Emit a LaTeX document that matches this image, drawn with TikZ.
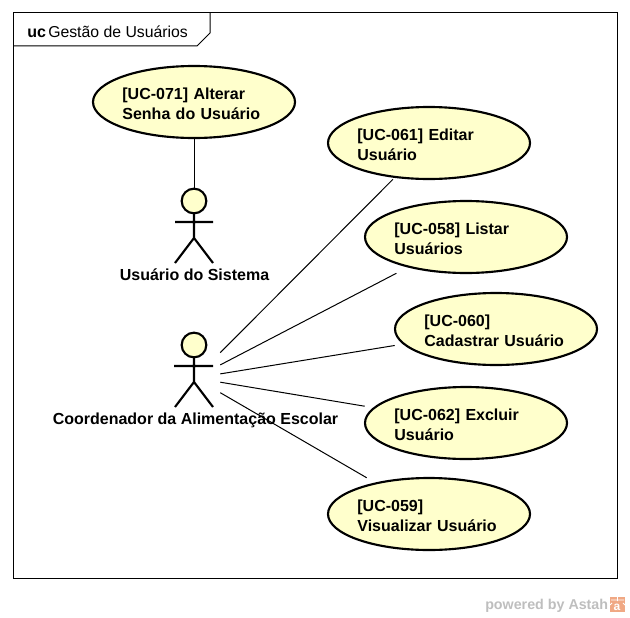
\documentclass[tikz,border=0pt]{standalone}
\usepackage{fontspec}
\setmainfont{Liberation Sans}
\definecolor{ucfill}{HTML}{FFFFCC}
\definecolor{wmgray}{HTML}{BEBEBE}
\definecolor{wmorange}{HTML}{F0A884}
\newcommand{\ucstrut}{\rule{0pt}{11.3pt}}
\tikzset{
  x=0.75pt,y=-0.75pt,
  ucshape/.style={draw=black,fill=ucfill,line width=1.6pt},
  ucbox/.style={rectangle,inner sep=0pt,minimum width=151.5pt,minimum height=54pt,text width=107.4pt,align=left,font=\fontsize{12}{15}\selectfont\bfseries},
  framepath/.style={draw=black,line width=0.75pt},
  conn/.style={draw=black,line width=0.75pt},
  actorline/.style={draw=black,line width=1.6pt},
  headnode/.style={circle,draw=black,fill=ucfill,line width=1.6pt,inner sep=0pt,minimum size=18.5pt},
  actorbox/.style={rectangle,inner sep=0pt,minimum width=37.5pt,minimum height=60pt},
  actorlabel/.style={inner sep=0pt,font=\fontsize{12}{15}\selectfont\bfseries},
}
\begin{document}
\begin{tikzpicture}
\useasboundingbox (0,0) rectangle (630,617);
% frame
\draw[framepath] (13,13) rectangle (617,578);
\draw[framepath] (13,46) -- (197,46) -- (210,33) -- (210,13);
\node[anchor=base west,inner sep=0pt,font=\fontsize{12}{15}\selectfont\bfseries] (ucword) at (27,37.5) {uc};
\node[anchor=base west,inner sep=0pt,font=\fontsize{11.85}{15}\selectfont] (frametitle) at (48,37.5) {Gestão de Usuários};
% use case ellipses
\foreach \cx/\cy in {194/102,429/143,466/237,496/329,466/423,429/514}
  \draw[ucshape] (\cx,\cy) ellipse [x radius=101,y radius=36];
\node[ucbox] (uc071) at (194,102) {\ucstrut[UC-071] Alterar\\Senha do Usuário};
\node[ucbox] (uc061) at (429,143) {\ucstrut[UC-061] Editar\\Usuário};
\node[ucbox] (uc058) at (466,237) {\ucstrut[UC-058] Listar\\Usuários};
\node[ucbox] (uc060) at (496,329) {\ucstrut[UC-060]\\Cadastrar Usuário};
\node[ucbox] (uc062) at (466,423) {\ucstrut[UC-062] Excluir\\Usuário};
\node[ucbox] (uc059) at (429,514) {\ucstrut[UC-059]\\Visualizar Usuário};
% actor 1
\draw[actorline] (194,214) -- (194,238) (175,222) -- (213,222) (175,263) -- (194,238) -- (213,263);
\node[headnode] (head1) at (194,201) {};
\node[actorlabel,anchor=base] (label1) at (194.5,280) {Usuário do Sistema};
% actor 2
\draw[actorline] (194,358) -- (194,382) (174,366) -- (213,366) (175,407) -- (194,382) -- (213,407);
\node[headnode] (head2) at (194,345) {};
\node[actorbox] (coord) at (195,378) {};
\node[actorlabel,anchor=base] (label2) at (195.5,424) {Coordenador da Alimentação Escolar};
% connectors
\draw[conn] (uc071) -- (head1);
\draw[conn] (coord) -- (uc061);
\draw[conn] (coord) -- (uc058);
\draw[conn] (coord) -- (uc060);
\draw[conn] (coord) -- (uc062);
\draw[conn] (coord) -- (uc059);
% watermark
\node[anchor=base west,inner sep=0pt,text=wmgray,font=\fontsize{10.7}{13}\selectfont\bfseries] (wm) at (485,609) {powered by Astah};
\fill[wmorange] (610,597) rectangle (625,612);
\draw[white,line width=0.6pt] (611,600) -- (624,600) (617.5,597) -- (617.5,601) (612,603) -- (610,605) (623,603) -- (625,605);
\node[inner sep=0pt,text=white,font=\fontsize{9}{9}\selectfont\bfseries] (wmlogo) at (617,607) {a};
\end{tikzpicture}
\end{document}
